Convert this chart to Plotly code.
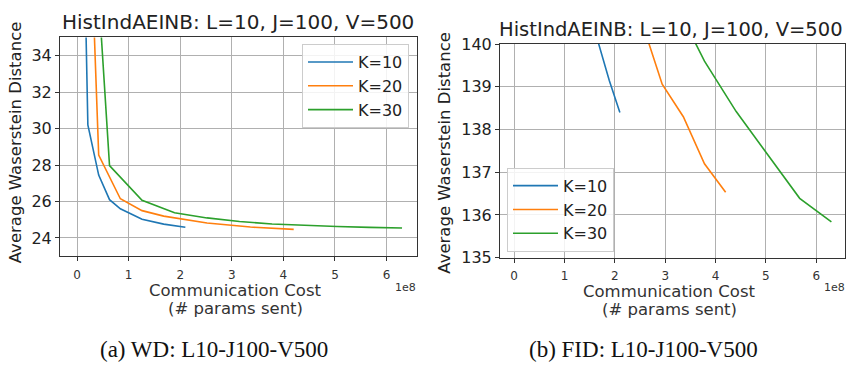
import plotly.graph_objects as go

# Communication cost in units of 1e8 params sent
k10_wd_x = [0.105, 0.21, 0.42, 0.63, 0.84, 1.26, 1.68, 2.1]
k10_wd_y = [45.0, 30.2, 27.45, 26.1, 25.6, 25.03, 24.76, 24.59]
k20_wd_x = [0.21, 0.42, 0.84, 1.26, 1.68, 2.52, 3.36, 4.2]
k20_wd_y = [45.0, 28.55, 26.15, 25.5, 25.2, 24.82, 24.6, 24.47]
k30_wd_x = [0.315, 0.63, 1.26, 1.89, 2.52, 3.15, 3.78, 4.41, 5.04, 5.67, 6.3]
k30_wd_y = [42.0, 27.97, 26.07, 25.38, 25.1, 24.9, 24.77, 24.69, 24.63, 24.58, 24.55]

k10_fid_x = [1.47, 1.68, 1.89, 2.1]
k10_fid_y = [141.1, 140.0, 139.15, 138.4]
k20_fid_x = [2.52, 2.94, 3.36, 3.78, 4.2]
k20_fid_y = [140.58, 139.06, 138.3, 137.2, 136.53]
k30_fid_x = [3.15, 3.78, 4.41, 5.04, 5.67, 6.3]
k30_fid_y = [141.08, 139.6, 138.42, 137.39, 136.39, 135.84]

labels = ["K=10", "K=20", "K=30"]
colors = ["#1f77b4", "#ff7f0e", "#2ca02c"]
x_ticks = [0, 1, 2, 3, 4, 5, 6]
wd_ticks = [24, 26, 28, 30, 32, 34]
fid_ticks = [135, 136, 137, 138, 139, 140]

title_text = "HistIndAEINB: L=10, J=100, V=500"
ytitle = "Average Waserstein Distance"
xtitle_lines = ["Communication Cost", "(# params sent)"]
captions = ["(a) WD: L10-J100-V500", "(b) FID: L10-J100-V500"]

W, H = 849, 367
FONT = "DejaVu Sans"

fig = go.Figure()
wd = [(k10_wd_x, k10_wd_y), (k20_wd_x, k20_wd_y), (k30_wd_x, k30_wd_y)]
fid = [(k10_fid_x, k10_fid_y), (k20_fid_x, k20_fid_y), (k30_fid_x, k30_fid_y)]
for i, (x, y) in enumerate(wd):
    fig.add_trace(go.Scatter(x=x, y=y, mode="lines", name=labels[i],
                             line=dict(color=colors[i], width=1.6),
                             xaxis="x", yaxis="y", legend="legend"))
for i, (x, y) in enumerate(fid):
    fig.add_trace(go.Scatter(x=x, y=y, mode="lines", name=labels[i],
                             line=dict(color=colors[i], width=1.6),
                             xaxis="x2", yaxis="y2", legend="legend2"))

def px(v):
    return v / W

def py(v):
    return 1 - v / H

axis_common = dict(showgrid=True, gridcolor="#b0b0b0", gridwidth=0.8,
                   showline=True, linecolor="#333", linewidth=1, mirror=True,
                   ticks="outside", ticklen=4, tickcolor="#333", zeroline=False)

fig.update_layout(
    width=W, height=H, margin=dict(l=0, r=0, t=0, b=0),
    paper_bgcolor="white", plot_bgcolor="white",
    font=dict(family=FONT, color="#222"),
    xaxis=dict(domain=[px(60), px(417)], range=[-0.33, 6.59], anchor="y",
               tickvals=x_ticks, tickfont=dict(size=12, color="#333"),
               ticklabelstandoff=3, **axis_common),
    yaxis=dict(domain=[py(260.7), py(30)], range=[23, 35], anchor="x",
               tickvals=wd_ticks, tickfont=dict(size=16, color="#222"), **axis_common),
    xaxis2=dict(domain=[px(500), px(845)], range=[-0.28, 6.57], anchor="y2",
                tickvals=x_ticks, tickfont=dict(size=12, color="#333"),
                ticklabelstandoff=3, **axis_common),
    yaxis2=dict(domain=[py(262.3), py(37)], range=[135, 140], anchor="x2",
                tickvals=fid_ticks, tickfont=dict(size=16, color="#222"), **axis_common),
    legend=dict(x=px(409), y=py(37), xanchor="right", yanchor="top",
                bgcolor="rgba(255,255,255,0.85)", bordercolor="#cccccc", borderwidth=1,
                font=dict(size=16, family=FONT), tracegroupgap=0, itemwidth=45),
    legend2=dict(x=px(507), y=py(256), xanchor="left", yanchor="bottom",
                 bgcolor="rgba(255,255,255,0.85)", bordercolor="#cccccc", borderwidth=1,
                 font=dict(size=16, family=FONT), tracegroupgap=0, itemwidth=45),
    showlegend=True,
)

ann = []
ann.append(dict(text=title_text, x=px(238), y=py(14), font=dict(size=20)))
ann.append(dict(text=title_text, x=px(671), y=py(22), font=dict(size=19.5)))
ann.append(dict(text=ytitle, x=px(15.5), y=py(141), textangle=-90, font=dict(size=16.5)))
ann.append(dict(text=ytitle, x=px(445), y=py(151.5), textangle=-90, font=dict(size=16.5)))
for cx, dy in [(236, 0), (669, 1)]:
    ann.append(dict(text=xtitle_lines[0], x=px(cx), y=py(297 + dy),
                    borderpad=0, font=dict(size=16.5, color="#333")))
    ann.append(dict(text=xtitle_lines[1], x=px(cx), y=py(316 + dy),
                    borderpad=0, font=dict(size=16.5, color="#333")))
ann.append(dict(text="1e8", x=px(405), y=py(294), font=dict(size=11, color="#333")))
ann.append(dict(text="1e8", x=px(834), y=py(294), font=dict(size=11, color="#333")))
ann.append(dict(text=captions[0], x=px(214), y=py(359),
                font=dict(size=23, family="Liberation Serif", color="#111")))
ann.append(dict(text=captions[1], x=px(643), y=py(359),
                font=dict(size=23, family="Liberation Serif", color="#111")))
for a in ann:
    a.update(xref="paper", yref="paper", showarrow=False, xanchor="center", yanchor="middle")
fig.update_layout(annotations=ann)

fig.write_html("out.html")
